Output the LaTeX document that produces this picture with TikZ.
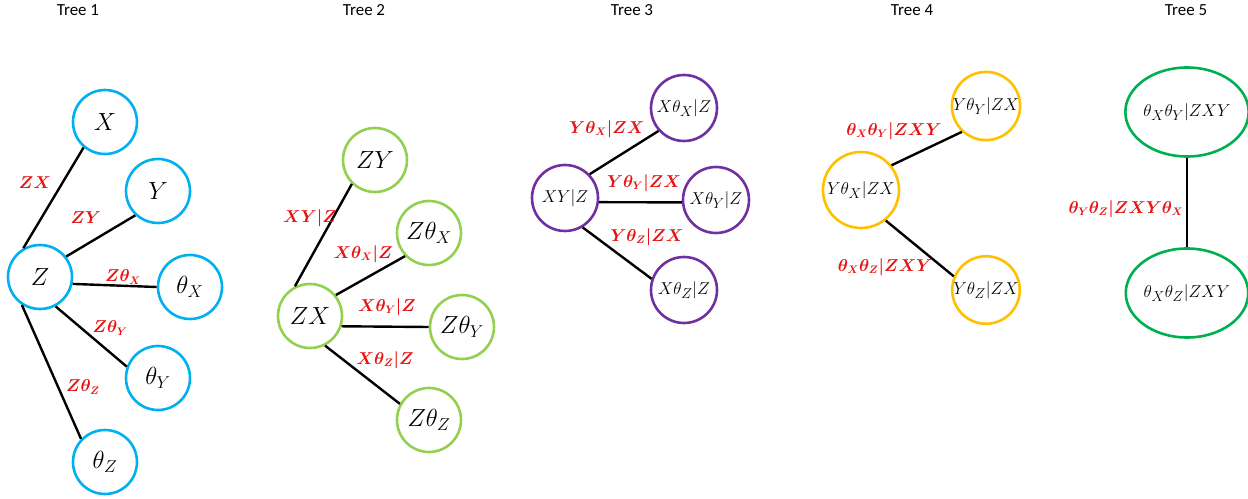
\documentclass[tikz,border=0pt]{standalone}
\usepackage{amsmath}
\usepackage{bm}
\usepackage{xcolor}
\usepackage{fontspec}
\usetikzlibrary{shapes.geometric}
\newfontfamily\titlefont{Carlito}
\definecolor{treeblue}{RGB}{0,176,240}
\definecolor{treelime}{RGB}{146,208,80}
\definecolor{treepurple}{RGB}{112,48,160}
\definecolor{treegold}{RGB}{255,192,0}
\definecolor{treegreen}{RGB}{0,176,80}
\definecolor{edgered}{RGB}{230,20,20}

\begin{document}
\begin{tikzpicture}[x=1bp,y=-1bp,
    title/.style={font=\titlefont\fontsize{17}{20}\selectfont},
    vtx/.style={circle,draw=#1,line width=2.6bp,minimum size=64bp,inner sep=0pt,font=\fontsize{24}{28}\selectfont},
    svtx/.style={vtx=#1,minimum size=66bp,font=\fontsize{19}{22}\selectfont},
    lbl/.style={text=edgered,inner sep=0pt,font=\fontsize{16}{19}\selectfont},
    lnk/.style={line width=2.4bp}]
    \useasboundingbox (0,0) rectangle (1248,499);
    % titles
    \node[title] (t1) at (78,10) {Tree 1};
    \node[title] (t2) at (364,10) {Tree 2};
    \node[title] (t3) at (632,10) {Tree 3};
    \node[title] (t4) at (912,10) {Tree 4};
    \node[title] (t5) at (1186,10) {Tree 5};
    % tree 1
    \node[vtx=treeblue] (Z) at (40,277) {$Z$};
    \node[vtx=treeblue] (X) at (105,122) {$X$};
    \node[vtx=treeblue] (Y) at (158,191) {$Y$};
    \node[vtx=treeblue] (thX) at (190,287) {$\theta_X$};
    \node[vtx=treeblue] (thY) at (158,378) {$\theta_Y$};
    \node[vtx=treeblue] (thZ) at (105,462) {$\theta_Z$};
    \draw[lnk] (Z.120) -- (X.230);
    \draw[lnk] (Z.38) -- (Y.227);
    \draw[lnk] (Z.-12) -- (thX.west);
    \draw[lnk] (Z.298) -- (thY.160);
    \draw[lnk] (Z.237) -- (thZ.136);
    \node[lbl] (lZX) at (35,183) {$\bm{ZX}$};
    \node[lbl] (lZY) at (86,218) {$\bm{ZY}$};
    \node[lbl] (lZthX) at (123,277) {$\bm{Z\theta_X}$};
    \node[lbl] (lZthY) at (110,328) {$\bm{Z\theta_Y}$};
    \node[lbl] (lZthZ) at (83,387) {$\bm{Z\theta_Z}$};
    % tree 2
    \node[vtx=treelime] (ZX) at (310,316) {$ZX$};
    \node[vtx=treelime] (ZY) at (375,160) {$ZY$};
    \node[vtx=treelime] (ZthX) at (429,233) {$Z\theta_X$};
    \node[vtx=treelime] (ZthY) at (462,327) {$Z\theta_Y$};
    \node[vtx=treelime] (ZthZ) at (429,420) {$Z\theta_Z$};
    \draw[lnk] (ZX.117) -- (ZY.226);
    \draw[lnk] (ZX.39) -- (ZthX.224);
    \draw[lnk] (ZX.-18) -- (ZthY.west);
    \draw[lnk] (ZX.297) -- (ZthZ.151);
    \node[lbl] (lXY) at (310,218) {$\bm{XY|Z}$};
    \node[lbl] (lXthX) at (363,254) {$\bm{X\theta_X|Z}$};
    \node[lbl] (lXthY) at (387,307) {$\bm{X\theta_Y|Z}$};
    \node[lbl] (lXthZ) at (385,360) {$\bm{X\theta_Z|Z}$};
    % tree 3
    \node[svtx=treepurple] (XYgZ) at (565,198) {$XY|Z$};
    \node[svtx=treepurple] (XthXgZ) at (684,108) {$X\theta_X|Z$};
    \node[svtx=treepurple] (XthYgZ) at (716,200) {$X\theta_Y|Z$};
    \node[svtx=treepurple] (XthZgZ) at (684,290) {$X\theta_Z|Z$};
    \draw[lnk] (XYgZ.44) -- (XthXgZ.222);
    \draw[lnk] (XYgZ.-7) -- (XthYgZ.184);
    \draw[lnk] (XYgZ.301) -- (XthZgZ.161);
    \node[lbl] (lYthX) at (607,129) {$\bm{Y\theta_X|ZX}$};
    \node[lbl] (lYthY) at (644,183) {$\bm{Y\theta_Y|ZX}$};
    \node[lbl] (lYthZ) at (647,237) {$\bm{Y\theta_Z|ZX}$};
    % tree 4
    \node[svtx=treegold,minimum size=76bp] (YthX) at (861,190) {$Y\theta_X|ZX$};
    \node[svtx=treegold] (YthY) at (986,106) {$Y\theta_Y|ZX$};
    \node[svtx=treegold] (YthZ) at (986,290) {$Y\theta_Z|ZX$};
    \draw[lnk] (YthX.39) -- (YthY.227);
    \draw[lnk] (YthX.309) -- (YthZ.157);
    \node[lbl] (lthXthY) at (894,131) {$\bm{\theta_X\theta_Y|ZXY}$};
    \node[lbl] (lthXthZ) at (885,267) {$\bm{\theta_X\theta_Z|ZXY}$};
    % tree 5
    \node[svtx=treegreen,ellipse,minimum width=110bp,minimum height=89bp] (thXthY) at (1187,112) {$\theta_X\theta_Y|ZXY$};
    \node[svtx=treegreen,ellipse,minimum width=110bp,minimum height=89bp] (thXthZ) at (1187,293) {$\theta_X\theta_Z|ZXY$};
    \draw[lnk] (thXthY.south) -- (thXthZ.north);
    \node[lbl] (lthYthZ) at (1126,209) {$\bm{\theta_Y\theta_Z|ZXY\theta_X}$};
\end{tikzpicture}
\end{document}
